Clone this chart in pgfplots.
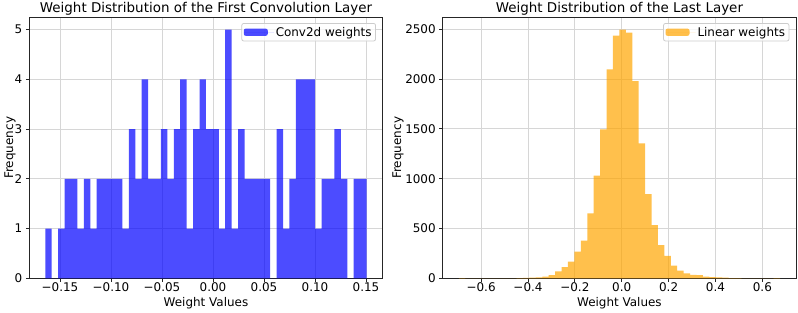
\documentclass[border=0pt]{standalone}
\usepackage{fontspec}
\setmainfont{DejaVu Sans}
\usepackage{pgfplots}
\usepackage{pgfplotstable}
\pgfplotsset{compat=1.18}

\definecolor{gridgray}{RGB}{214,214,214}
\definecolor{spine}{RGB}{38,38,38}
\definecolor{legframe}{RGB}{204,204,204}
\definecolor{convblue}{RGB}{0,0,255}
\definecolor{linorange}{RGB}{255,165,0}

\tikzset{
  convfill/.style={fill=convblue, fill opacity=0.7, draw=none},
  linfill/.style={fill=linorange, fill opacity=0.7, draw=none},
}

% First convolution layer: 50 bins (left edge, count); last row closes the final bin
\pgfplotstableread{
edge count
-0.1644 1
-0.1581 0
-0.1518 1
-0.1455 2
-0.1392 2
-0.1329 1
-0.1266 2
-0.1203 1
-0.1140 2
-0.1077 2
-0.1014 2
-0.0951 2
-0.0888 1
-0.0825 3
-0.0762 2
-0.0699 4
-0.0636 2
-0.0573 2
-0.0510 3
-0.0447 2
-0.0384 3
-0.0321 4
-0.0258 1
-0.0195 3
-0.0132 4
-0.0069 3
-0.0006 3
0.0057 1
0.0120 5
0.0183 1
0.0246 3
0.0309 2
0.0372 2
0.0435 2
0.0498 2
0.0561 0
0.0624 3
0.0687 1
0.0750 2
0.0813 4
0.0876 4
0.0939 4
0.1002 1
0.1065 2
0.1128 2
0.1191 3
0.1254 2
0.1317 0
0.1380 2
0.1443 2
0.1506 0
}\convtable

% Last (linear) layer: 50 bins (left edge, count)
\pgfplotstableread{
edge count
-0.6955 1
-0.6681 0
-0.6407 0
-0.6132 0
-0.5858 0
-0.5584 0
-0.5310 0
-0.5036 0
-0.4761 0
-0.4487 3
-0.4213 4
-0.3939 6
-0.3665 10
-0.3391 18
-0.3116 33
-0.2842 70
-0.2568 112
-0.2294 167
-0.2020 268
-0.1745 378
-0.1471 652
-0.1197 1030
-0.0923 1495
-0.0649 2097
-0.0375 2435
-0.0100 2495
0.0174 2465
0.0448 1980
0.0722 1355
0.0996 846
0.1271 535
0.1545 334
0.1819 224
0.2093 127
0.2367 77
0.2642 50
0.2916 34
0.3190 32
0.3464 17
0.3738 13
0.4013 10
0.4287 6
0.4561 2
0.4835 1
0.5109 0
0.5384 0
0.5658 0
0.5932 0
0.6206 0
0.6480 1
0.6755 0
}\lintable

\pgfplotsset{
  histaxis/.style={
    scale only axis,
    width=353.4bp, height=261bp,
    axis line style={spine, line width=0.8bp},
    tick style={spine, line width=0.8bp},
    tick align=outside,
    major tick length=3.5bp,
    tick pos=left,
    grid=major,
    major grid style={gridgray, line width=0.8bp},
    ymin=0,
    scaled ticks=false,
    /pgf/number format/assume math mode=true,
    /pgf/number format/1000 sep={},
    tick label style={font=\fontsize{12}{14}\selectfont, text=black},
    xticklabel style={yshift=2.5bp},
    label style={font=\fontsize{12}{14}\selectfont},
    title style={font=\fontsize{13.5}{16}\selectfont,
      at={(axis description cs:0.5,1)}, anchor=base, yshift=-1.4bp},
    xlabel={Weight Values},
    xlabel style={at={(axis description cs:0.5,0)}, anchor=base, yshift=-27.7bp},
    ylabel={Frequency},
    legend cell align=left,
    legend style={
      at={(0.981,0.978)}, anchor=north east,
      draw=legframe, line width=0.8bp, rounded corners=2bp,
      fill=white, fill opacity=0.8, text opacity=1,
      font=\fontsize{12}{14}\selectfont,
      inner xsep=2bp, inner ysep=1.5bp,
    },
  },
}

\begin{document}
\begin{tikzpicture}
\begin{axis}[
  histaxis,
  title={Weight Distribution of the First Convolution Layer},
  ylabel style={at={(axis description cs:-0.0546,0.5)}, anchor=center},
  xmin=-0.1801, xmax=0.1664,
  ymax=5.25,
  xtick={-0.15,-0.10,-0.05,0,0.05,0.10,0.15},
  xticklabels={−0.15,−0.10,−0.05,0.00,0.05,0.10,0.15},
  ytick={0,1,2,3,4,5},
]
\addplot[ybar interval, convfill,
  legend image code/.code={\fill[convfill] (0bp,-3.6bp) rectangle (24bp,3.6bp);
    \path (0bp,0bp) -- (30bp,0bp);}]
  table[x=edge, y=count] {\convtable};
\addlegendentry{Conv2d weights}
\end{axis}

\begin{axis}[
  histaxis,
  at={(413.4bp,0bp)},
  title={Weight Distribution of the Last Layer},
  ylabel style={at={(axis description cs:-0.1266,0.5)}, anchor=center},
  xmin=-0.764, xmax=0.744,
  ymax=2620,
  xtick={-0.6,-0.4,-0.2,0,0.2,0.4,0.6},
  xticklabels={−0.6,−0.4,−0.2,0.0,0.2,0.4,0.6},
  ytick={0,500,1000,1500,2000,2500},
]
\addplot[ybar interval, linfill,
  legend image code/.code={\fill[linfill] (0bp,-3.6bp) rectangle (24bp,3.6bp);
    \path (0bp,0bp) -- (30bp,0bp);}]
  table[x=edge, y=count] {\lintable};
\addlegendentry{Linear weights}
\end{axis}

\pgfresetboundingbox
\path[use as bounding box] (-29.3bp,-34.7bp) rectangle (768.7bp,278.3bp);
\end{tikzpicture}
\end{document}
